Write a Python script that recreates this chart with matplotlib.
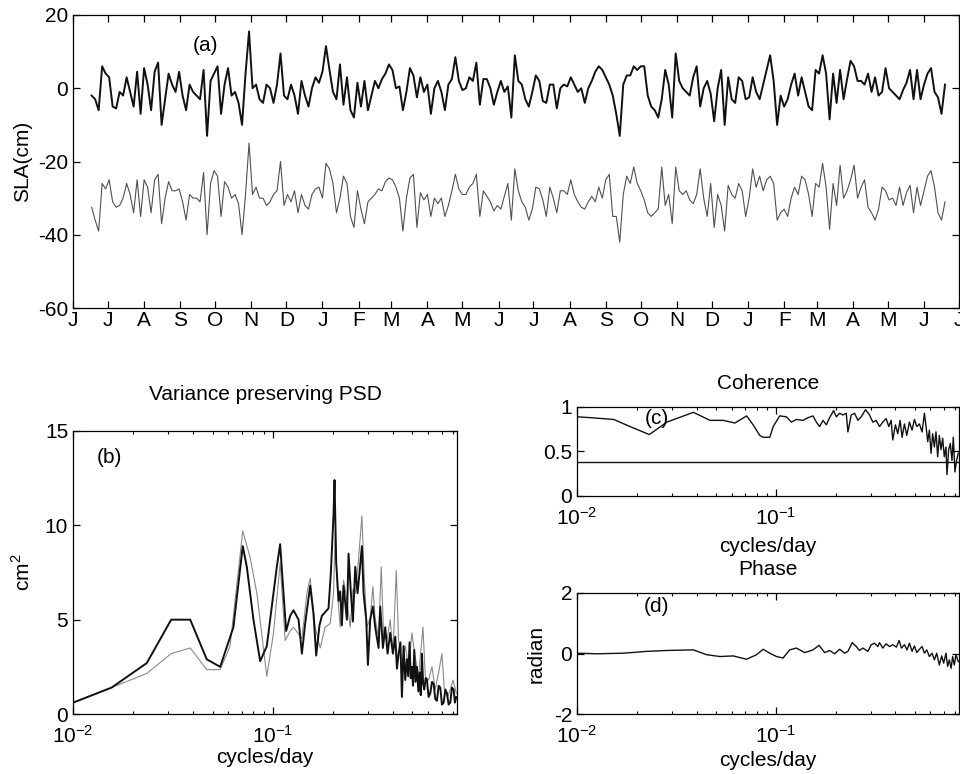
import matplotlib
matplotlib.use('Agg')
import matplotlib.pyplot as plt
import matplotlib.dates as mdates
import numpy as np
import pandas as pd

plt.rcParams['font.family'] = ['Liberation Sans', 'DejaVu Sans']
plt.rcParams['axes.unicode_minus'] = False
plt.rcParams['mathtext.fontset'] = 'custom'
plt.rcParams['mathtext.rm'] = 'Liberation Sans'

# ---- (a) SLA time series, one value every 3 days ----
start_day = '1993-06-17'
sla_1 = [
    -2, -3, -6, 6, 4, 3, -5, -5.5, -1, -2,
    3, -1, -5, 4.5, -7, 5.5, 1, -6, 4.5, 7,
    -10, -3, 4, 1, -1, 4.5, -2, -6, 1, -1,
    -2, -3, 5, -13, 2, 4, 6, -7, 1, 5.5,
    -2, -1, -4, -10, 4, 15.5, 0, 1, -3, -4,
    1, 0, -4, 1, 9.5, -2, -3, 1, -2, -7,
    2, -2, -5, 0, 3, 1.5, 4.5, 11.5, 5, -1,
    -3, 6.5, -4.5, 3, -6, -8, 1.5, -5, 2, -6,
    -2, 2, 0, 2.5, 4, 6.5, 5, 0, 0.5, -6,
    -1, 5.5, 3.5, -2.5, 3, -1, 1, -7, 0, 2,
    -1, -6, 1, 2.5, 8.5, 2, -0.5, 0, 3, 2,
    7, -4.5, 2.5, 2.5, 0, -4.5, -1, 2, -1, 0.5,
    -8, 9, 2, 1, -3, -5, -1, 3.5, 2, -3.5,
    -4, 1, 1, -5.5, 0, 1, 0.5, 3, 1, -1,
    0, -4, 0, 2, 4.5, 6, 5, 3, 1, -2,
    -7, -13, 1, 3.5, 3.5, 6, 5, 6, 6, -2,
    -5, -6, -8, -3, 5, 1, -8, 9.5, 2, 0,
    -1, -2, 3, 6, -5, 0, 2, -1.5, -9, 0,
    5, -10, 3, -3, -4, 3, 2, -3, -2.5, 3,
    -1, -3, 1, 5, 9, 2, -10, -2, -5, -3,
    1, 4, -2, 3, -1, -5, -6, 5, 4, 9,
    4, -8.5, 4, -4, 5, -3, 2.5, 7.5, 6, 2,
    2, 1, 4, -1, 3, -2, -1, 5.5, 0, -1,
    -2, -3, -0.5, 1.5, 5, -3, 5, -3, 1, 4,
    5.5, -1, -2.5, -7, 1,
]
sla_2 = [
    -2.5, -6, -9, 4, 2.5, 5, -1, -2.5, -2, 0,
    4, 1, -4, 5, -5, 5, 3, -4, 5, 6.5,
    -7, 0, 4.5, 2, 2, 2.5, -1, -6, 1, 0,
    0, -1, 7, -10, 4, 7.5, 6, -5, 4.5, 3,
    0, 1, -1.5, -10, 1, 15, 1, 3, 0, 0,
    -2, -1, 1, 2, 10, -2, 1, -1, 2, -4,
    1, -2, -3, 1, 2.5, 3, 0, 9.5, 8, 4,
    -4, 0, 6, 4, -5, -8, 2, -3, -7, -1,
    0, 1, 2.5, 2, 4.5, 5.5, 5, 3, 0, -9,
    0, 5.5, 6.5, -8, 1.5, -0.5, 1, -5, 0, -1.5,
    0, -5, -2, 2, 6.5, 2.5, 1, 1, 3, 4,
    6.5, -5, 2, 0.5, -1, -3.5, -2, -3, 0.5, 4,
    -6, 8, 2, -1, -2.5, -6, -3, 3, 2.5, -0.5,
    -5, 3, 0, -4, 2, 2, 1, 5, 1, -1,
    -2.5, -3, -1, 0.5, -1, 3, 0, 5, 6.5, -5,
    -5, -12, 1, 6, 4, 8.5, 4, 2, -0.5, -4,
    -5, -4, -3, 8.5, -2, 1, -7, 8.5, 2, 1,
    2, -0.5, -1.5, 1, 8, 0, -5, 4, -8, 1,
    -2, -9, 3.5, 1, 0, 4, 2, -5, 0, 8,
    3, 6, 2, 5, 6, 4, -6, -4, -3, -5,
    0, 3, 1, 6, 5, 1, -5, 4, 3, 9.5,
    3, -8.5, 4, -2, 9, 0, 2, 5, 9, 0,
    3, 5, -2.5, -4, -6, -3, 3, 2, -0.5, 0,
    -2, 3, -2, 1.5, 3.5, -4, 3, -2, 2, 6,
    7.5, 3, -4, -6, -1,
]
offset_2 = -30  # second record shifted down for display

# ---- (b) variance preserving PSD ----
psd_f_1 = [0.0100, 0.0156, 0.0234, 0.0310, 0.0386, 0.0467, 0.0545, 0.0635, 0.0707, 0.0741,
           0.0800, 0.0864, 0.0933, 0.1047, 0.1088, 0.1131, 0.1166, 0.1221, 0.1269, 0.1345,
           0.1398, 0.1452, 0.1538, 0.1598, 0.1648, 0.1712, 0.1760, 0.1828, 0.1900, 0.1952,
           0.2013, 0.2036, 0.2076, 0.2133, 0.2174, 0.2216, 0.2259, 0.2348, 0.2393, 0.2459,
           0.2516, 0.2585, 0.2655, 0.2716, 0.2791, 0.2845, 0.2934, 0.2991, 0.3072, 0.3168,
           0.3254, 0.3382, 0.3448, 0.3555, 0.3652, 0.3752, 0.3869, 0.3990, 0.4100, 0.4180,
           0.4260, 0.4350, 0.4426, 0.4512, 0.4600, 0.4689, 0.4760, 0.4835, 0.4900, 0.4968,
           0.5030, 0.5104, 0.5180, 0.5263, 0.5350, 0.5427, 0.5500, 0.5576, 0.5650, 0.5728,
           0.5820, 0.5906, 0.6020, 0.6138, 0.6260, 0.6379, 0.6500, 0.6628, 0.6760, 0.6888,
           0.7020, 0.7158, 0.7300, 0.7437, 0.7580, 0.7728, 0.7880, 0.8032, 0.8150, 0.8282]
psd_1 = [0.6, 1.4, 2.7, 5.0, 5.0, 2.9, 2.5, 4.6, 8.9, 7.8,
         5.0, 2.8, 3.6, 7.8, 9.0, 6.4, 4.4, 5.2, 5.5, 5.0,
         3.2, 4.8, 6.8, 5.3, 3.1, 4.7, 5.2, 5.4, 5.6, 7.5,
         10.6, 12.4, 8.0, 6.0, 6.5, 4.7, 6.8, 5.0, 8.5, 6.4,
         4.9, 7.8, 6.4, 7.5, 8.9, 6.4, 5.0, 2.6, 5.0, 5.7,
         4.6, 3.5, 5.7, 3.5, 4.6, 3.2, 4.3, 3.2, 4.1, 2.4,
         3.2, 3.8, 0.9, 3.6, 1.8, 2.9, 2.0, 3.8, 1.9, 2.5,
         1.5, 3.4, 1.7, 2.5, 1.2, 2.2, 1.0, 3.2, 1.6, 1.3,
         1.9, 1.8, 0.9, 1.1, 1.7, 1.6, 0.8, 0.7, 1.5, 1.4,
         0.5, 0.6, 1.3, 1.1, 0.5, 0.6, 1.4, 1.3, 0.6, 0.9]
psd_f_2 = [0.0100, 0.0156, 0.0234, 0.0310, 0.0386, 0.0467, 0.0545, 0.0611, 0.0707, 0.0770,
           0.0832, 0.0933, 0.1008, 0.1088, 0.1153, 0.1221, 0.1269, 0.1398, 0.1481, 0.1538,
           0.1629, 0.1726, 0.1828, 0.1937, 0.2013, 0.2052, 0.2108, 0.2174, 0.2259, 0.2348,
           0.2440, 0.2516, 0.2585, 0.2685, 0.2791, 0.2867, 0.2957, 0.3072, 0.3168, 0.3254,
           0.3382, 0.3488, 0.3583, 0.3724, 0.3869, 0.3990, 0.4147, 0.4260, 0.4426, 0.4600,
           0.4780, 0.4968, 0.5124, 0.5365, 0.5640, 0.5794, 0.6021, 0.6257, 0.6501, 0.6756,
           0.7021, 0.7213, 0.7494, 0.7728, 0.7971, 0.8282]
psd_2 = [0.6, 1.4, 2.15, 3.2, 3.5, 2.35, 2.35, 3.6, 9.7, 8.3,
         6.4, 2.0, 4.3, 8.0, 3.9, 4.4, 4.6, 4.0, 6.4, 7.2,
         4.6, 3.5, 4.6, 4.8, 6.4, 9.6, 6.4, 4.6, 7.1, 6.0,
         4.6, 6.6, 6.4, 8.2, 10.5, 7.3, 4.6, 5.1, 6.75, 5.0,
         4.1, 7.8, 4.2, 3.9, 5.0, 3.2, 7.6, 3.9, 2.7, 3.6,
         2.5, 4.3, 3.2, 2.0, 4.6, 2.0, 1.8, 2.5, 1.3, 2.2,
         3.2, 1.3, 0.9, 1.3, 1.8, 1.1]

# ---- (c) coherence ----
coh_f = [0.0100, 0.0117, 0.0153, 0.0185, 0.0231, 0.0283, 0.0385, 0.0467, 0.0544, 0.0623,
         0.0713, 0.0769, 0.0831, 0.0864, 0.0933, 0.0970, 0.1047, 0.1131, 0.1198, 0.1269,
         0.1371, 0.1453, 0.1539, 0.1600, 0.1662, 0.1728, 0.1796, 0.1866, 0.1954, 0.2016,
         0.2095, 0.2177, 0.2262, 0.2306, 0.2397, 0.2491, 0.2588, 0.2691, 0.2828, 0.2962,
         0.3078, 0.3199, 0.3324, 0.3455, 0.3591, 0.3703, 0.3804, 0.3877, 0.3999, 0.4108,
         0.4221, 0.4320, 0.4438, 0.4560, 0.4702, 0.4849, 0.4982, 0.5119, 0.5279, 0.5444,
         0.5593, 0.5702, 0.5812, 0.5925, 0.6039, 0.6157, 0.6277, 0.6397, 0.6522, 0.6648,
         0.6778, 0.6910, 0.7043, 0.7181, 0.7264, 0.7406, 0.7549, 0.7697, 0.7816, 0.7967,
         0.8122, 0.8281]
coh = [0.89, 0.88, 0.86, 0.78, 0.69, 0.83, 0.94, 0.85, 0.85, 0.82,
       0.90, 0.80, 0.68, 0.66, 0.66, 0.78, 0.90, 0.89, 0.83, 0.86,
       0.85, 0.88, 0.90, 0.83, 0.78, 0.85, 0.80, 0.88, 0.96, 0.89,
       0.93, 0.91, 0.93, 0.72, 0.91, 0.93, 0.85, 0.89, 0.97, 0.91,
       0.83, 0.85, 0.78, 0.83, 0.87, 0.78, 0.85, 0.63, 0.80, 0.70,
       0.85, 0.66, 0.81, 0.68, 0.83, 0.74, 0.86, 0.78, 0.81, 0.72,
       0.93, 0.78, 0.61, 0.74, 0.48, 0.70, 0.55, 0.72, 0.44, 0.68,
       0.52, 0.65, 0.44, 0.55, 0.24, 0.52, 0.59, 0.40, 0.66, 0.27,
       0.40, 0.48]
coh_sig = 0.38

# ---- (d) phase ----
phase_f = [0.0100, 0.0126, 0.0171, 0.0224, 0.0283, 0.0385, 0.0449, 0.0524, 0.0611, 0.0713,
           0.0800, 0.0864, 0.0933, 0.1008, 0.1088, 0.1175, 0.1269, 0.1398, 0.1539, 0.1650,
           0.1761, 0.1866, 0.1977, 0.2095, 0.2219, 0.2306, 0.2424, 0.2539, 0.2638, 0.2742,
           0.2906, 0.3020, 0.3138, 0.3262, 0.3324, 0.3455, 0.3591, 0.3732, 0.3877, 0.4045,
           0.4172, 0.4287, 0.4438, 0.4576, 0.4702, 0.4849, 0.4982, 0.5119, 0.5279, 0.5444,
           0.5593, 0.5746, 0.5925, 0.6109, 0.6277, 0.6449, 0.6648, 0.6830, 0.6990, 0.7181,
           0.7320, 0.7463, 0.7623, 0.7755, 0.7907, 0.8060, 0.8281]
phase = [0.01, -0.01, 0.01, 0.07, 0.10, 0.12, -0.04, -0.10, -0.08, -0.19,
         -0.04, 0.14, 0.01, -0.10, -0.15, 0.12, 0.18, 0.03, 0.12, 0.27,
         0.03, 0.10, -0.01, 0.14, 0.01, 0.07, 0.36, 0.23, 0.10, 0.18,
         0.07, 0.29, 0.34, 0.23, 0.36, 0.18, 0.32, 0.23, 0.29, 0.21,
         0.43, 0.18, 0.29, 0.12, 0.34, 0.07, 0.25, 0.03, 0.14, 0.23,
         0.01, 0.12, -0.10, 0.01, -0.21, 0.01, -0.38, -0.08, -0.32, 0.01,
         -0.43, -0.21, -0.49, -0.10, -0.38, -0.04, -0.27]

fig = plt.figure(figsize=(9.6, 7.74), dpi=100)
W, H = 960.0, 774.0
FS = 15


def box(x0, y0, x1, y1):
    # pixel box (top-left origin) -> figure fraction
    return [x0 / W, 1 - y1 / H, (x1 - x0) / W, (y1 - y0) / H]


def style(ax, xpad=3.5):
    ax.tick_params(which='both', direction='in', top=True, right=True, labelsize=FS)
    ax.tick_params(which='major', length=5, width=0.9)
    ax.tick_params(which='minor', length=2.5, width=0.8)
    ax.tick_params(axis='x', which='both', pad=xpad)
    for s in ax.spines.values():
        s.set_linewidth(0.9)


# (a)
ax_a = fig.add_axes(box(73, 15, 959, 308))
t = pd.date_range(start_day, periods=len(sla_1), freq='3D')
ax_a.plot(t, np.array(sla_2) + offset_2, color='#505050', lw=0.8)
ax_a.plot(t, sla_1, color='#111111', lw=1.4)
months = pd.date_range('1993-06-01', '1995-07-01', freq='MS')
ax_a.set_xlim(months[0], months[-1])
ax_a.set_xticks(months)
ax_a.set_xticklabels([m.strftime('%b')[0] for m in months])
ax_a.set_ylim(-60, 20)
ax_a.set_yticks([-60, -40, -20, 0, 20])
ax_a.set_yticklabels(['-60', '-40', '-20', '0', '20'])
ax_a.set_ylabel('SLA(cm)', fontsize=FS, labelpad=4)
ax_a.text(0.149, 0.895, '(a)', transform=ax_a.transAxes, fontsize=FS, ha='center', va='center')
style(ax_a, xpad=2)

# (b)
ax_b = fig.add_axes(box(73, 431, 457, 714))
ax_b.plot(psd_f_2, psd_2, color='#8a8a8a', lw=0.8)
ax_b.plot(psd_f_1, psd_1, color='#111111', lw=1.4)
ax_b.set_xscale('log')
ax_b.set_xlim(0.01, 0.835)
ax_b.set_ylim(0, 15)
ax_b.set_yticks([0, 5, 10, 15])
ax_b.set_title('Variance preserving PSD', fontsize=FS, pad=22)
ax_b.set_xlabel('cycles/day', fontsize=FS, labelpad=1)
ax_b.set_ylabel('cm$^2$', fontsize=FS, labelpad=8)
ax_b.text(0.096, 0.905, '(b)', transform=ax_b.transAxes, fontsize=FS, ha='center', va='center')
style(ax_b, xpad=8)

# (c)
ax_c = fig.add_axes(box(577, 407, 959, 496))
ax_c.plot(coh_f, coh, color='#111111', lw=1.0)
ax_c.axhline(coh_sig, color='#111111', lw=1.0)
ax_c.set_xscale('log')
ax_c.set_xlim(0.01, 0.835)
ax_c.set_ylim(0, 1)
ax_c.set_yticks([0, 0.5, 1])
ax_c.set_yticklabels(['0', '0.5', '1'])
ax_c.set_title('Coherence', fontsize=FS, pad=13)
ax_c.set_xlabel('cycles/day', fontsize=FS, labelpad=6)
ax_c.text(0.209, 0.87, '(c)', transform=ax_c.transAxes, fontsize=FS, ha='center', va='center')
style(ax_c, xpad=8)

# (d)
ax_d = fig.add_axes(box(577, 593, 959, 714))
ax_d.plot(phase_f, phase, color='#111111', lw=1.0)
ax_d.set_xscale('log')
ax_d.set_xlim(0.01, 0.835)
ax_d.set_ylim(-2, 2)
ax_d.set_yticks([-2, 0, 2])
ax_d.set_yticklabels(['-2', '0', '2'])
ax_d.set_title('Phase', fontsize=FS, pad=13)
ax_d.set_xlabel('cycles/day', fontsize=FS, labelpad=3)
ax_d.set_ylabel('radian', fontsize=FS, labelpad=6)
ax_d.text(0.209, 0.89, '(d)', transform=ax_d.transAxes, fontsize=FS, ha='center', va='center')
style(ax_d, xpad=8)

fig.savefig('out.png', dpi=100)
